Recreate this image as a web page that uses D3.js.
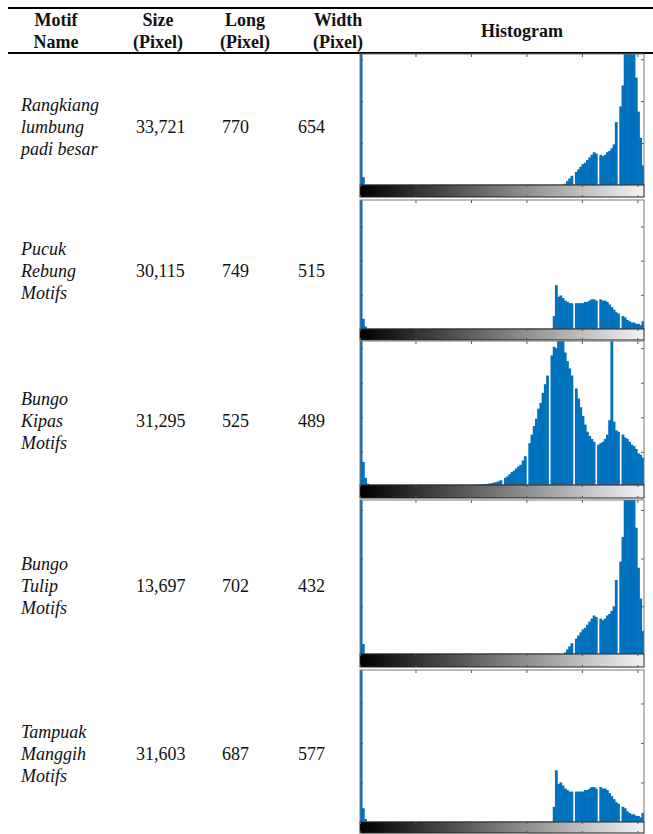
<!DOCTYPE html>
<html lang="en">
<head>
<meta charset="UTF-8">
<title>Motif histograms</title>
<script src="https://d3js.org/d3.v7.min.js"></script>
<style>
  body { margin: 0; background: #fff; }
  svg text { font-family: "Liberation Serif", "Times New Roman", serif; fill: #111; }
  .head { font-weight: bold; font-size: 18px; }
  .cell { font-size: 18px; }
  .name { font-style: italic; }
</style>
</head>
<body>
<svg id="table" width="653" height="834"></svg>
<script>
// table text
const headers = [["Motif", "Name"], ["Size", "(Pixel)"], ["Long", "(Pixel)"], ["Width", "(Pixel)"], ["Histogram"]];
const motifNames = [
  ["Rangkiang", "lumbung", "padi besar"],
  ["Pucuk", "Rebung", "Motifs"],
  ["Bungo", "Kipas", "Motifs"],
  ["Bungo", "Tulip", "Motifs"],
  ["Tampuak", "Manggih", "Motifs"]
];
const sizes = ["33,721", "30,115", "31,295", "13,697", "31,603"];
const longs = ["770", "749", "525", "702", "687"];
const widths = ["654", "515", "489", "432", "577"];

// histogram counts, 2 grey levels per bin, in % of plot height (>100 is clipped)
// low = bins from grey level 0, start/counts = main body
const hist1Low = [140, 6];
const hist1Start = 182;
const hist1 = [0, 1, 3, 5, 7, 0, 10, 12, 14, 16, 17, 19, 21, 23, 25, 24, 0, 23, 22, 23,
  25, 26, 28, 31, 48, 0, 60, 76, 105, 130, 130, 130, 115, 82, 56, 36, 15];

const hist2Low = [140, 8, 2];
const hist2Start = 172;
const hist2 = [0, 10, 34, 25, 26, 24, 22, 21, 20, 20, 0, 20, 20, 20, 20, 21, 21, 22, 23, 23,
  22, 0, 23, 22, 22, 21, 19, 17, 15, 13, 12, 0, 10, 9, 7, 6, 5, 5, 4, 4, 3, 6];

const hist3Low = [140, 16, 5, 1];
const hist3Start = 104;
const hist3 = [0, 0.3, 0.3, 0.5, 0.6, 0.8, 1, 1.3, 1.7, 2, 2.6, 3.3, 0, 5, 6, 7.5, 9, 10, 11.5, 13,
  14, 17, 20, 0, 29, 35, 41, 46, 53, 57, 64, 70, 76, 0, 90, 96, 95, 110, 112, 102,
  92, 86, 81, 76, 0, 67, 60, 54, 48, 42, 37, 34, 32, 30, 0, 28, 29, 30, 32, 35,
  45, 130, 44, 38, 37, 0, 35, 33, 32, 30, 28, 27, 25, 22, 21, 19];

const hist4Low = [140, 6.5];
const hist4Start = 182;
const hist4 = [0, 1, 3, 5, 7, 0, 10, 12, 14, 16, 17, 19, 21, 23, 25, 24, 0, 23, 22, 23,
  25, 26, 28, 31, 48, 0, 60, 76, 105, 130, 130, 130, 115, 82, 56, 36, 15];

const hist5Low = [140, 9, 2];
const hist5Start = 172;
const hist5 = [0, 10, 34, 25, 26, 24, 22, 21, 20, 20, 0, 20, 20, 20, 20, 21, 21, 22, 23, 23,
  22, 0, 23, 22, 22, 21, 19, 17, 15, 13, 12, 0, 10, 9, 7, 6, 5, 5, 4, 4, 3, 6];

const xTicks = [0, 50, 100, 150, 200, 250];
const yTicks = [[32, 64, 96], [26.5, 53, 79.5], [23, 47, 71, 95], [31, 62, 93.5], [26, 52, 78]];

const histograms = [
  { low: hist1Low, start: hist1Start, counts: hist1 },
  { low: hist2Low, start: hist2Start, counts: hist2 },
  { low: hist3Low, start: hist3Start, counts: hist3 },
  { low: hist4Low, start: hist4Start, counts: hist4 },
  { low: hist5Low, start: hist5Start, counts: hist5 }
];

// layout
const svg = d3.select("#table");
const W = 653;
const left = 8;
const colX = { name: 21, size: 136, long: 222, width: 298 };
const headX = [56, 158, 245, 338, 522];
const rowMid = [127, 271, 421, 586, 754];
const panels = [
  { top: 54, bottom: 197, cbar: 12 },
  { top: 200, bottom: 340, cbar: 11 },
  { top: 341, bottom: 498, cbar: 13 },
  { top: 500, bottom: 667, cbar: 13 },
  { top: 670, bottom: 833, cbar: 11 }
];
const x = d3.scaleLinear().domain([0, 256]).range([360, 644]);
const blue = "#0072BD";

// rules
svg.append("line").attr("x1", left).attr("x2", W).attr("y1", 8).attr("y2", 8)
  .attr("stroke", "#000").attr("stroke-width", 2);
svg.append("line").attr("x1", left).attr("x2", W).attr("y1", 53).attr("y2", 53)
  .attr("stroke", "#000").attr("stroke-width", 1.8);

// header
headers.forEach((h, i) => {
  const t = svg.append("text").attr("class", "head").attr("text-anchor", "middle");
  if (h.length === 1) {
    t.append("tspan").attr("x", headX[i]).attr("y", 31).attr("dy", "0.35em").text(h[0]);
  } else {
    h.forEach((s, j) => t.append("tspan").attr("x", headX[i]).attr("y", 20 + j * 22).attr("dy", "0.35em").text(s));
  }
});

// body rows
motifNames.forEach((lines, r) => {
  const t = svg.append("text").attr("class", "cell name");
  lines.forEach((s, j) => t.append("tspan").attr("x", colX.name)
    .attr("y", rowMid[r] + (j - 1) * 22).attr("dy", "0.35em").text(s));
  [[sizes, colX.size], [longs, colX.long], [widths, colX.width]].forEach(([arr, cx]) => {
    svg.append("text").attr("class", "cell").attr("x", cx).attr("y", rowMid[r])
      .attr("dy", "0.35em").text(arr[r]);
  });
});

// grey colour bar gradient
const grad = svg.append("defs").append("linearGradient").attr("id", "grey")
  .attr("x1", "0%").attr("x2", "100%");
grad.append("stop").attr("offset", "0%").attr("stop-color", "#000");
grad.append("stop").attr("offset", "100%").attr("stop-color", "#f4f4f4");

// histograms
histograms.forEach((hd, k) => {
  const p = panels[k];
  const plotBottom = p.bottom - p.cbar;
  const y = d3.scaleLinear().domain([0, 100]).range([plotBottom, p.top]);
  const g = svg.append("g");

  g.append("clipPath").attr("id", "clip" + k).append("rect")
    .attr("x", x(0)).attr("y", p.top).attr("width", x(256) - x(0)).attr("height", plotBottom - p.top);

  const bins = hd.low.map((v, i) => ({ lvl: i * 2, v }))
    .concat(hd.counts.map((v, i) => ({ lvl: hd.start + i * 2, v })));

  g.append("rect").attr("x", x(0)).attr("y", p.top)
    .attr("width", x(256) - x(0)).attr("height", plotBottom - p.top).attr("fill", "#fff");

  // bars overlap a little so neighbours don't show seams; empty bins stay white
  g.append("g").attr("clip-path", `url(#clip${k})`)
    .selectAll("rect").data(bins.filter(d => d.v > 0)).enter().append("rect")
    .attr("x", d => x(d.lvl) - 0.3)
    .attr("width", d => x(d.lvl + 2) - x(d.lvl) + 0.6)
    .attr("y", d => y(d.v))
    .attr("height", d => plotBottom - y(d.v))
    .attr("fill", blue);

  // ticks
  const tickStyle = sel => { sel.select(".domain").remove(); sel.selectAll("line").attr("stroke", "#555"); };
  g.append("g").attr("transform", `translate(0,${p.top})`)
    .call(d3.axisTop(x).tickValues(xTicks).tickSize(-3).tickFormat("")).call(tickStyle);
  g.append("g").attr("transform", `translate(${x(0)},0)`)
    .call(d3.axisLeft(y).tickValues(yTicks[k]).tickSize(-3).tickFormat("")).call(tickStyle);
  g.append("g").attr("transform", `translate(${x(256)},0)`)
    .call(d3.axisRight(y).tickValues(yTicks[k]).tickSize(-3).tickFormat("")).call(tickStyle);

  g.append("rect").attr("x", x(0)).attr("y", p.top)
    .attr("width", x(256) - x(0)).attr("height", plotBottom - p.top)
    .attr("fill", "none").attr("stroke", "#777").attr("stroke-width", 1);

  // colour bar
  g.append("rect").attr("x", x(0)).attr("y", plotBottom)
    .attr("width", x(256) - x(0)).attr("height", p.cbar)
    .attr("fill", "url(#grey)").attr("stroke", "#222").attr("stroke-width", 1);
  g.append("g").attr("transform", `translate(0,${plotBottom})`)
    .call(d3.axisTop(x).tickValues(xTicks).tickSize(-2).tickFormat("")).call(tickStyle);
  g.append("g").attr("transform", `translate(0,${p.bottom})`)
    .call(d3.axisBottom(x).tickValues(xTicks).tickSize(-2).tickFormat("")).call(tickStyle);
});
</script>
</body>
</html>
